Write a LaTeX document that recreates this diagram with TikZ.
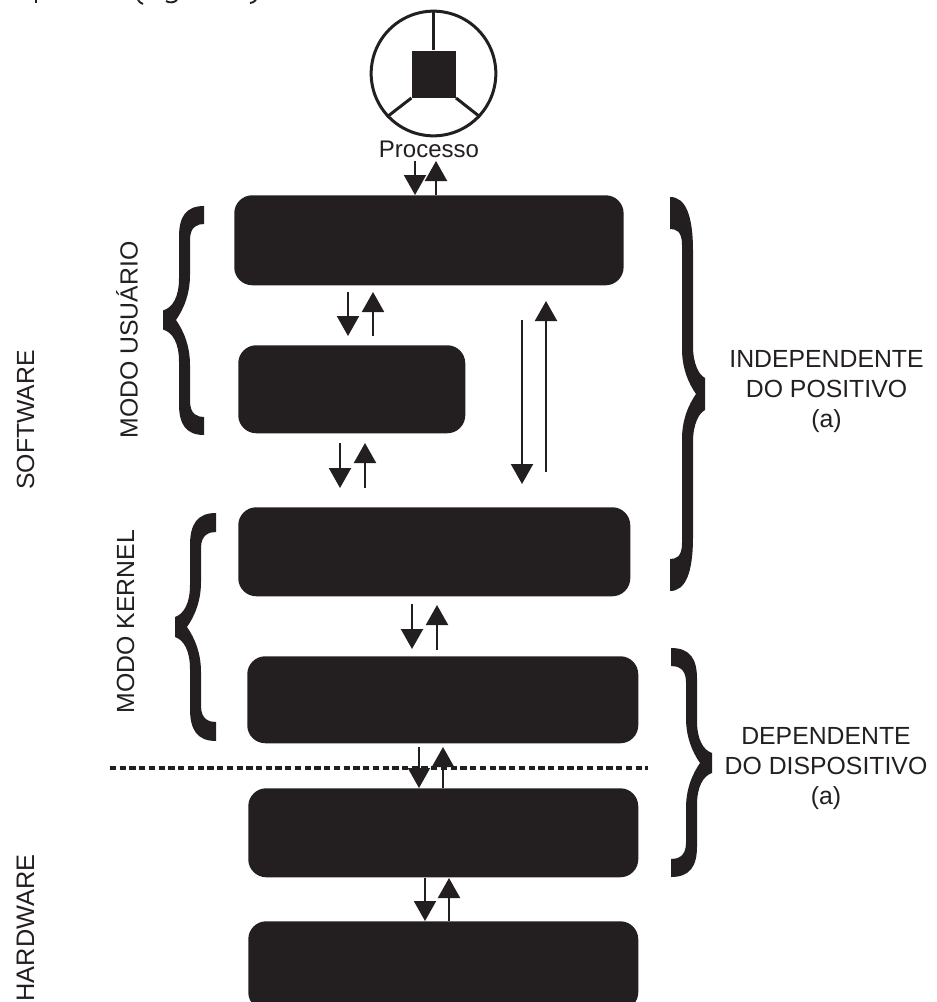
\documentclass[tikz,border=0pt]{standalone}
\usepackage{fontspec}
\setmainfont{Liberation Sans}
\usetikzlibrary{arrows.meta}
\definecolor{ink}{HTML}{231F20}
% #1 direction (1 left brace, -1 right brace), #2 tip x, #3 width, #4 top, #5 mid, #6 bottom,
% #7 arm thickness, #8 half tip height, #9 spine outer offset; inner = outer+11, notch = outer-3
\newcommand{\curlybrace}[9]{%
  \pgfmathsetmacro{\Lu}{#5-#4}\pgfmathsetmacro{\Ld}{#6-#5}
  \pgfmathsetmacro{\So}{#9}\pgfmathsetmacro{\Si}{#9+11}\pgfmathsetmacro{\No}{#9-3}
  \begin{scope}[shift={(#2,#5)},xscale=#1]
    \fill[ink] (0,-#8) .. controls (\So-6,-#8-3) and (\So,-#8-14) .. (\So,-#8-32)
      -- (\So,-\Lu+1.7*#7) .. controls (\So,-\Lu+0.6*#7) and (\So+7,-\Lu) .. (#3,-\Lu)
      -- (#3,-\Lu+#7) .. controls (#3-6,-\Lu+#7) and (\Si,-\Lu+#7+2) .. (\Si,-\Lu+#7+16)
      -- (\Si,-45) .. controls (\Si,-25) and (\No+7,-10) .. (\No,0)
      .. controls (\No+7,10) and (\Si,25) .. (\Si,45)
      -- (\Si,\Ld-#7-16) .. controls (\Si,\Ld-#7-2) and (#3-6,\Ld-#7) .. (#3,\Ld-#7)
      -- (#3,\Ld) .. controls (\So+7,\Ld) and (\So,\Ld-0.6*#7) .. (\So,\Ld-1.7*#7)
      -- (\So,#8+32) .. controls (\So,#8+14) and (\So-6,#8+3) .. (0,#8) -- cycle;
  \end{scope}}
\tikzset{
  x=.75pt,y=-.75pt,
  layer/.style={fill=ink,draw=none,rounded corners=13.5pt,inner sep=0pt,anchor=north west},
  lbl/.style={text=ink,font=\fontsize{18.6}{22.5}\selectfont,align=center,inner sep=0pt},
  flow/.style={draw=ink,line width=1.6pt,-{Triangle[width=16.5pt,length=15pt,fill=ink]}},
  wheel/.style={draw=ink,line width=2.25pt},
}
\begin{document}
\begin{tikzpicture}
\useasboundingbox (0,0) rectangle (937,1002);
% cropped remains of the line above the picture
\draw[ink,line width=1.5pt] (36,0) -- (36,3);
\draw[ink,line width=1.4pt] (138,0) .. controls (139,2) and (141,3) .. (143,4);
\draw[ink,line width=1.4pt] (166,1) .. controls (169,3) and (174,3) .. (177,0);
\draw[ink,line width=1.4pt] (250,3) .. controls (252,3) and (254,2) .. (256,0);
\begin{scope}
\clip (0,0) rectangle (937,1002);
\node[layer,minimum width=292pt,minimum height=67.5pt] (user) at (234,195) {};
\node[layer,minimum width=170.25pt,minimum height=66pt] (lib) at (238,345) {};
\node[layer,minimum width=294pt,minimum height=66.75pt] (indep) at (238,507) {};
\node[layer,minimum width=293.25pt,minimum height=65.25pt] (drv) at (247,656) {};
\node[layer,minimum width=292.5pt,minimum height=66.75pt] (ctl) at (248,788) {};
\node[layer,minimum width=292.5pt,minimum height=66.75pt] (dev) at (248,921) {};
\end{scope}
% process wheel
\node[draw=ink,line width=2.25pt,circle,minimum size=93.5pt,inner sep=0pt] (proc) at (433.5,73.5) {};
\node[fill=ink,draw=none,minimum width=33pt,minimum height=35.25pt,inner sep=0pt] (sq) at (433.7,74.2) {};
\draw[wheel] (proc.north) -- (sq.north -| proc.north);
\draw[wheel] (proc.223) -- (sq.south west);
\draw[wheel] (proc.317) -- (sq.south east);
\node[lbl,font=\fontsize{18}{22}\selectfont] (ptext) at (429,149) {Processo};
% connector end points
\coordinate (a1) at (415,161); \coordinate (a2) at (436,161);
\coordinate (b1) at (348,292); \coordinate (b2) at (348,336);
\coordinate (b3) at (373,336); \coordinate (b4) at (373,292);
\coordinate (c1) at (340,443); \coordinate (c2) at (340,488);
\coordinate (c3) at (365,488); \coordinate (c4) at (365,443);
\coordinate (d1) at (522,320); \coordinate (d2) at (522,484);
\coordinate (d3) at (546,472); \coordinate (d4) at (546,301);
\coordinate (e1) at (412,604); \coordinate (e2) at (412,649);
\coordinate (e3) at (437,650); \coordinate (e4) at (437,605);
\coordinate (f1) at (419,747); \coordinate (f2) at (443,747);
\coordinate (g1) at (425,878); \coordinate (g2) at (449,878);
\draw[flow] (a1) -- (a1 |- user.north);
\draw[flow] (a2 |- user.north) -- (a2);
\draw[flow] (b1) -- (b2);
\draw[flow] (b3) -- (b4);
\draw[flow] (c1) -- (c2);
\draw[flow] (c3) -- (c4);
\draw[flow] (d1) -- (d2);
\draw[flow] (d3) -- (d4);
\draw[flow] (e1) -- (e2);
\draw[flow] (e3) -- (e4);
\draw[flow] (f1) -- (f1 |- ctl.north);
\draw[flow] (f2 |- ctl.north) -- (f2);
\draw[flow] (g1) -- (g1 |- dev.north);
\draw[flow] (g2 |- dev.north) -- (g2);
% boundary
\coordinate (hl) at (110,768); \coordinate (hr) at (648,768);
\draw[ink,line width=2.3pt,dash pattern=on 4.7pt off 2.6pt] (hl) -- (hr);
% braces
\curlybrace{1}{163}{41}{206}{320}{435}{18}{9.5}{16}
\curlybrace{1}{175}{41}{513}{627}{741}{19}{10}{15}
\curlybrace{-1}{705}{35}{197}{394}{591}{32}{16}{12}
\curlybrace{-1}{712}{41}{648}{763}{877}{18}{10}{15}
% labels
\node[lbl] (ind) at (826.5,392) {INDEPENDENTE\\DO POSITIVO\\(a)};
\node[lbl] (dep) at (826,769) {DEPENDENTE\\DO DISPOSITIVO\\(a)};
\node[lbl,rotate=90] (sw) at (25.5,420) {SOFTWARE};
\node[lbl,rotate=90] (mu) at (127,340) {MODO USUÁRIO};
\node[lbl,rotate=90] (mk) at (125.5,621.5) {MODO KERNEL};
\node[lbl,rotate=90,font=\fontsize{19}{22}\selectfont] (hw) at (25.5,928) {HARDWARE};
\end{tikzpicture}
\end{document}
